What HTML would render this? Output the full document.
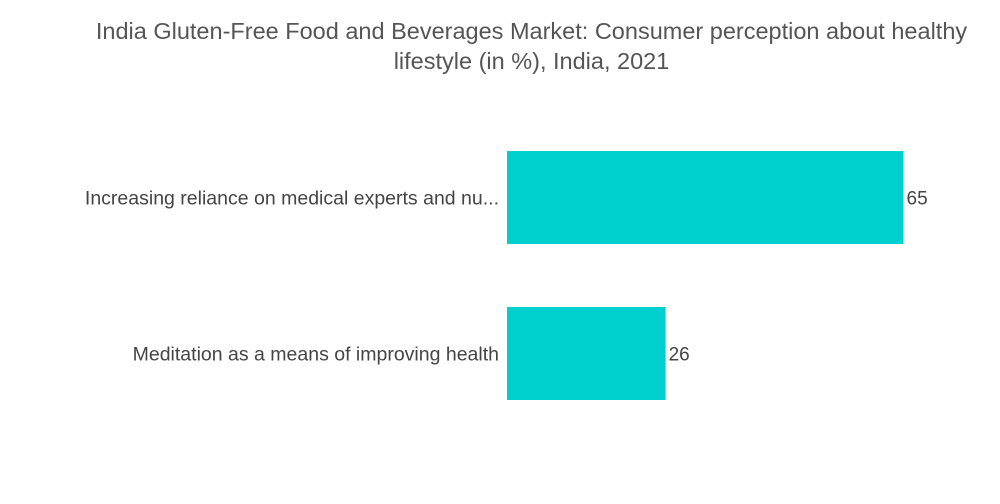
<!DOCTYPE html>
<html>
<head>
<meta charset="utf-8">
<style>
  html,body{margin:0;padding:0;background:#fff;}
  body{width:1000px;height:504px;overflow:hidden;font-family:"Liberation Sans",sans-serif;}
  #title{position:absolute;left:40px;width:983px;top:16px;text-align:center;font-size:23.5px;line-height:30px;color:#555;}
</style>
</head>
<body>
<div id="title">India Gluten-Free Food and Beverages Market: Consumer perception about healthy<br>lifestyle (in %), India, 2021</div>
<svg id="chart" width="1000" height="504" style="position:absolute;left:0;top:0;"></svg>
<script>
const categories = ["Increasing reliance on medical experts and nu...", "Meditation as a means of improving health"];
const values = [65, 26];

const svg = document.getElementById('chart');
const NS = "http://www.w3.org/2000/svg";
const x0 = 507, pxPerUnit = 6.1;
const xScale = v => x0 + v * pxPerUnit;
const bandTop = 151, bandStep = 156, barH = 93;
const yScale = i => bandTop + i * bandStep;

categories.forEach((c, i) => {
  const y = yScale(i);
  const r = document.createElementNS(NS, 'rect');
  
  
  r.setAttribute('x', x0);
  r.setAttribute('y', y);
  r.setAttribute('width', xScale(values[i]) - x0);
  r.setAttribute('height', barH);
  r.setAttribute('fill', '#00cfd0');
  svg.appendChild(r);

  const lab = document.createElementNS(NS, 'text');
  
  
  lab.setAttribute('x', x0 - 8);
  lab.setAttribute('y', y + barH / 2 + 7);
  lab.setAttribute('text-anchor', 'end');
  lab.setAttribute('font-size', '19.5');
  lab.setAttribute('fill', '#444');
  lab.textContent = c;
  svg.appendChild(lab);

  const v = document.createElementNS(NS, 'text');
  
  
  v.setAttribute('x', xScale(values[i]) + 3);
  v.setAttribute('y', y + barH / 2 + 7);
  v.setAttribute('font-size', '19');
  v.setAttribute('fill', '#444');
  v.textContent = values[i];
  svg.appendChild(v);
});
</script>
</body>
</html>
